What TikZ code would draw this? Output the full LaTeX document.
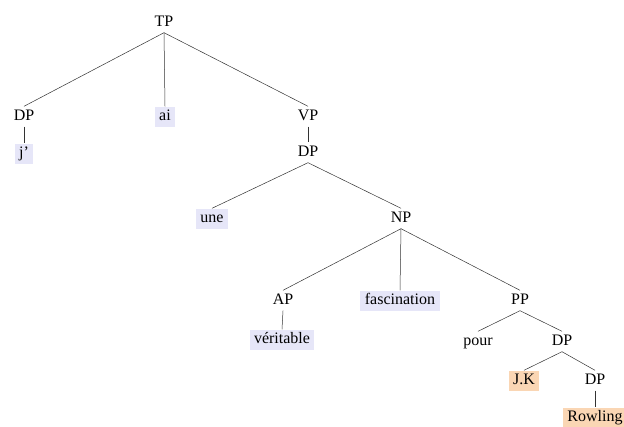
\documentclass[tikz,border=0pt]{standalone}
\usepackage{fontspec}
\setmainfont{Liberation Serif}

\definecolor{wordblue}{RGB}{230,230,248}
\definecolor{nameorange}{RGB}{250,214,180}

\tikzset{
  phrase/.style={anchor=base, font=\fontsize{16}{19}\selectfont,
    inner xsep=4.5pt, inner ysep=2.5pt, text height=11pt, text depth=4pt},
  lexword/.style={phrase, fill=wordblue},
  propername/.style={phrase, fill=nameorange},
  branch/.style={draw=black!80, line width=0.5pt}
}

\begin{document}
\begin{tikzpicture}[x=1pt,y=-1pt]
        \useasboundingbox (0,0) rectangle (624,426);

        % Draw top levels
        \node[phrase] (tp) at (164,26) {TP};
        \node[phrase] (dpj) at (24,120) {DP};
        \node[lexword] (je) at (24,157) {j'};
        \node[lexword] (ai) at (165,120) {ai};
        \node[phrase] (vp) at (308,120) {VP};
        \node[phrase] (dpobj) at (308,156) {DP};

        % Draw object phrase
        \node[lexword] (une) at (212,222) {une};
        \node[phrase] (np) at (401,222) {NP};
        \node[phrase] (ap) at (283,304) {AP};
        \node[lexword] (veritable) at (282,343) {véritable};
        \node[lexword] (fascination) at (400,304) {fascination};
        \node[phrase] (pp) at (520,304) {PP};

        % Draw prepositional phrase
        \node[phrase] (pour) at (478,345) {pour};
        \node[phrase] (dpname) at (562,345) {DP};
        \node[propername] (jk) at (524,384) {J.K};
        \node[phrase] (dprow) at (595,384) {DP};
        \node[propername] (rowling) at (595,421) {Rowling};

        % Draw branches
        \foreach \p/\c in {tp/dpj, tp/ai, tp/vp, dpj/je, vp/dpobj,
                           dpobj/une, dpobj/np, np/ap, np/fascination, np/pp,
                           ap/veritable, pp/pour, pp/dpname, dpname/jk,
                           dpname/dprow, dprow/rowling}
          \draw[branch] (\p.south) -- (\c.north);
    \end{tikzpicture}
\end{document}
